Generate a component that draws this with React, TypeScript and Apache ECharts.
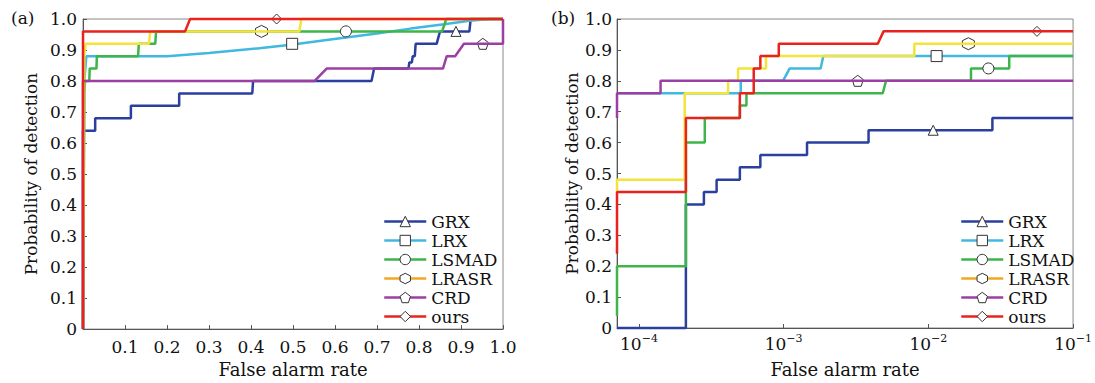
import React, { useEffect, useRef } from "react";
import * as echarts from "echarts";

// ---------- data ----------
const NAMES = ["GRX", "LRX", "LSMAD", "LRASR", "CRD", "ours"];
const COLORS = ["#2a3f9e", "#40b8e0", "#3db54a", "#f2e43a", "#9c3fa4", "#e8231e"];
const LEGEND_COLORS = ["#2a3f9e", "#40b8e0", "#3db54a", "#f3a623", "#9c3fa4", "#e8231e"];
const HEX = "path://M0,-1 L0.866,-0.5 L0.866,0.5 L0,1 L-0.866,0.5 L-0.866,-0.5 Z";
const PENT = "path://M0,-1 L0.951,-0.309 L0.588,0.809 L-0.588,0.809 L-0.951,-0.309 Z";
const SYMBOLS = ["triangle", "rect", "circle", HEX, PENT, "diamond"];
const SYMBOL_SIZES = [10, 11, 11, 12, 11, 10];

// panel (a): linear false alarm rate
const GRX_A = [[0, 0], [0, 0.64], [0.029, 0.64], [0.029, 0.68], [0.114, 0.68], [0.114, 0.72], [0.229, 0.72], [0.229, 0.76], [0.403, 0.76], [0.405, 0.8], [0.687, 0.8], [0.693, 0.84], [0.775, 0.84], [0.777, 0.86], [0.783, 0.86], [0.785, 0.88], [0.79, 0.88], [0.792, 0.92], [0.842, 0.92], [0.85, 0.96], [0.92, 0.96], [0.923, 1.0], [1, 1]];
const LRX_A = [[0, 0], [0.003, 0.8], [0.008, 0.88], [0.2, 0.88], [0.3, 0.89], [0.42, 0.906], [0.5, 0.918], [0.58, 0.932], [0.7, 0.953], [0.78, 0.969], [0.86, 0.983], [0.92, 0.994], [0.97, 1.0], [1, 1]];
const LSMAD_A = [[0, 0], [0.003, 0.76], [0.005, 0.8], [0.015, 0.8], [0.016, 0.84], [0.032, 0.84], [0.033, 0.88], [0.131, 0.88], [0.133, 0.92], [0.172, 0.92], [0.174, 0.96], [0.855, 0.96], [0.865, 1.0], [1, 1]];
const LRASR_A = [[0, 0], [0.003, 0.88], [0.006, 0.92], [0.157, 0.92], [0.16, 0.96], [0.515, 0.96], [0.52, 1.0], [1, 1]];
const CRD_A = [[0, 0], [0, 0.8], [0.551, 0.8], [0.58, 0.84], [0.857, 0.84], [0.866, 0.88], [0.886, 0.88], [0.907, 0.92], [1, 0.92], [1, 1]];
const OURS_A = [[0, 0], [0, 0.96], [0.243, 0.96], [0.255, 1.0], [1, 1]];
const MARKERS_A = [[0.888, 0.96], [0.498, 0.92], [0.626, 0.96], [0.425, 0.96], [0.952, 0.92], [0.461, 1.0]];

// panel (b): log false alarm rate
const XMIN_B = 7.05e-5;
const XMAX_B = 0.1;
const GRX_B = [[XMIN_B, 0], [2.11e-4, 0], [2.11e-4, 0.4], [2.81e-4, 0.4], [2.81e-4, 0.44], [3.44e-4, 0.44], [3.44e-4, 0.48], [4.98e-4, 0.48], [4.98e-4, 0.52], [6.9e-4, 0.52], [6.9e-4, 0.56], [1.45e-3, 0.56], [1.45e-3, 0.6], [3.86e-3, 0.6], [3.86e-3, 0.64], [0.0277, 0.64], [0.0277, 0.68], [XMAX_B, 0.68]];
const LRX_B = [[XMIN_B, 0.76], [5.05e-4, 0.76], [5.05e-4, 0.8], [9.9e-4, 0.8], [1.1e-3, 0.84], [1.8e-3, 0.84], [1.88e-3, 0.88], [XMAX_B, 0.88]];
const LSMAD_B = [[XMIN_B, 0.04], [XMIN_B, 0.2], [2.11e-4, 0.2], [2.11e-4, 0.6], [2.85e-4, 0.6], [2.85e-4, 0.68], [4.98e-4, 0.68], [4.98e-4, 0.72], [5.53e-4, 0.72], [5.53e-4, 0.76], [4.84e-3, 0.76], [5.1e-3, 0.8], [0.0197, 0.8], [0.0197, 0.84], [0.0362, 0.84], [0.0362, 0.88], [XMAX_B, 0.88]];
const LRASR_B = [[XMIN_B, 0.44], [XMIN_B, 0.48], [2.07e-4, 0.48], [2.07e-4, 0.76], [4.13e-4, 0.76], [4.13e-4, 0.8], [4.84e-4, 0.8], [4.84e-4, 0.84], [7.55e-4, 0.84], [7.55e-4, 0.88], [8.0e-3, 0.88], [8.0e-3, 0.92], [XMAX_B, 0.92]];
const CRD_B = [[XMIN_B, 0.68], [XMIN_B, 0.76], [1.41e-4, 0.76], [1.41e-4, 0.8], [XMAX_B, 0.8]];
const OURS_B = [[XMIN_B, 0.24], [XMIN_B, 0.44], [2.11e-4, 0.44], [2.11e-4, 0.68], [4.98e-4, 0.68], [4.98e-4, 0.76], [6.21e-4, 0.76], [6.21e-4, 0.84], [6.9e-4, 0.84], [6.9e-4, 0.88], [9.25e-4, 0.88], [9.25e-4, 0.92], [4.47e-3, 0.92], [4.9e-3, 0.96], [XMAX_B, 0.96]];
const MARKERS_B = [[0.0108, 0.64], [0.0114, 0.88], [0.026, 0.84], [0.0189, 0.92], [3.25e-3, 0.8], [0.0563, 0.96]];

const DATA_A = [GRX_A, LRX_A, LSMAD_A, LRASR_A, CRD_A, OURS_A];
const DATA_B = [GRX_B, LRX_B, LSMAD_B, LRASR_B, CRD_B, OURS_B];

// ---------- styling ----------
const FONT = "DejaVu Serif";
const TXT = "#111";
const fmtY = (v: number) => (v === 0 ? "0" : v.toFixed(1));

function makeSeries(panel: number, datas: number[][][], markers: number[][]) {
  return NAMES.map((name, i) => ({
    type: "line",
    name,
    xAxisIndex: panel,
    yAxisIndex: panel,
    data: datas[i],
    symbol: SYMBOLS[i],
    symbolSize: SYMBOL_SIZES[i],
    showSymbol: false,
    clip: false,
    z: 2 + i,
    lineStyle: { color: COLORS[i], width: 2.5 },
    itemStyle: { color: "#fff", borderColor: "#333", borderWidth: 1 },
    emphasis: { disabled: true },
    markPoint: {
      symbol: SYMBOLS[i],
      symbolSize: SYMBOL_SIZES[i],
      label: { show: false },
      itemStyle: { color: "#fff", borderColor: "#333", borderWidth: 1 },
      emphasis: { disabled: true },
      data: [{ coord: markers[i] }],
    },
  }));
}

function makeLegend(left: number) {
  return {
    orient: "vertical",
    left,
    top: 212,
    padding: 0,
    itemGap: 0,
    itemWidth: 42,
    itemHeight: 13,
    selectedMode: false,
    textStyle: { fontFamily: FONT, fontSize: 17, color: TXT, lineHeight: 19 },
    data: NAMES.map((name, i) => ({
      name,
      lineStyle: { color: LEGEND_COLORS[i], width: 2.5 },
      itemStyle: { color: "#fff", borderColor: "#333", borderWidth: 1 },
    })),
  };
}

const yAxisBase = (gridIndex: number, gap: number, margin: number) => ({
  type: "value",
  gridIndex,
  min: 0,
  max: 1,
  interval: 0.1,
  name: "Probability of detection",
  nameLocation: "middle",
  nameRotate: 90,
  nameGap: gap,
  nameTextStyle: { fontFamily: FONT, fontSize: 17, color: TXT },
  axisLine: { show: true, lineStyle: { color: "#555", width: 1 } },
  axisTick: { show: true, inside: true, length: 4, lineStyle: { color: "#555" } },
  axisLabel: { formatter: fmtY, fontFamily: FONT, fontSize: 17, color: TXT, margin },
  splitLine: { show: false },
});

export default function App() {
  const ref = useRef<HTMLDivElement>(null);
  useEffect(() => {
    if (!ref.current) return;
    const chart = echarts.init(ref.current, null, { renderer: "svg" });
    const option: any = {
      animation: false,
      backgroundColor: "#fff",
      title: [
        { text: "(a)", left: 6, top: 4, textStyle: { fontFamily: FONT, fontSize: 17, fontWeight: "normal", color: TXT } },
        { text: "(b)", left: 546, top: 4, textStyle: { fontFamily: FONT, fontSize: 17, fontWeight: "normal", color: TXT } },
      ],
      grid: [
        { left: 83, right: 592, top: 19, bottom: 52, show: true, borderColor: "#888", borderWidth: 1 },
        { left: 617, right: 21, top: 19, bottom: 55, show: true, borderColor: "#888", borderWidth: 1 },
      ],
      xAxis: [
        {
          type: "value",
          gridIndex: 0,
          min: 0,
          max: 1,
          interval: 0.1,
          name: "False alarm rate",
          nameLocation: "middle",
          nameGap: 30,
          nameTextStyle: { fontFamily: FONT, fontSize: 18, color: TXT },
          axisLine: { show: true, lineStyle: { color: "#555", width: 1 } },
          axisTick: { show: true, inside: true, length: 4, lineStyle: { color: "#555" } },
          axisLabel: { formatter: fmtY, showMinLabel: false, fontFamily: FONT, fontSize: 17, color: TXT, margin: 9 },
          splitLine: { show: false },
        },
        {
          type: "log",
          logBase: 10,
          gridIndex: 1,
          min: XMIN_B,
          max: XMAX_B,
          name: "False alarm rate",
          nameLocation: "middle",
          nameGap: 32,
          nameTextStyle: { fontFamily: FONT, fontSize: 18, color: TXT },
          axisLine: { show: true, lineStyle: { color: "#555", width: 1 } },
          axisTick: { show: true, inside: true, length: 4, lineStyle: { color: "#555" } },
          axisLabel: {
            showMinLabel: false,
            margin: 5,
            formatter: (v: number) => {
              const e = Math.round(Math.log10(v));
              return `{b|10}{s|${e < 0 ? "\u2212" : ""}${Math.abs(e)}}`;
            },
            rich: {
              b: { fontFamily: FONT, fontSize: 17, color: TXT, lineHeight: 22 },
              s: { fontFamily: FONT, fontSize: 11, color: TXT, lineHeight: 12, verticalAlign: "top" },
            },
          },
          splitLine: { show: false },
        },
      ],
      yAxis: [yAxisBase(0, 44, 6), yAxisBase(1, 37, 5)],
      legend: [makeLegend(383), makeLegend(960)],
      series: [...makeSeries(0, DATA_A, MARKERS_A), ...makeSeries(1, DATA_B, MARKERS_B)],
    };
    chart.setOption(option);
    return () => chart.dispose();
  }, []);
  return <div ref={ref} style={{ position: "absolute", left: 0, top: 0, width: 1095, height: 383 }} />;
}
